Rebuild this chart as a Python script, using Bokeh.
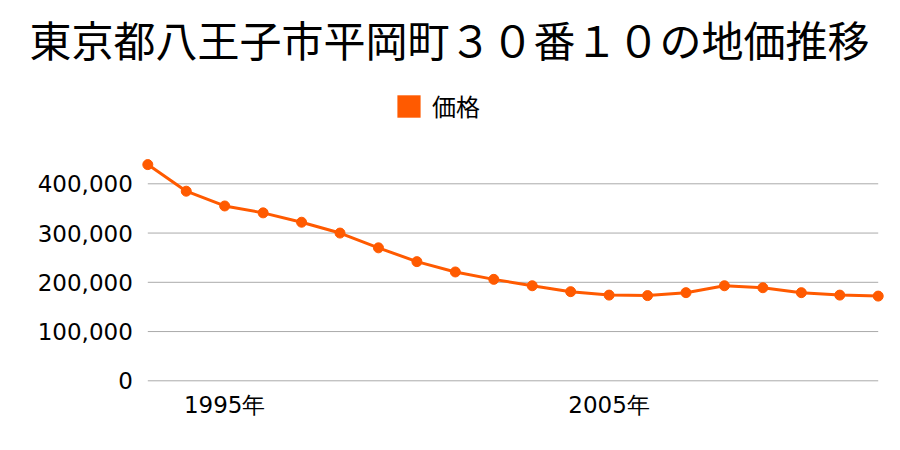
from bokeh.plotting import figure
from bokeh.models import (ColumnDataSource, Range1d, Legend, LegendItem, Label)
from bokeh.embed import file_html
from bokeh.resources import INLINE

title_text = "東京都八王子市平岡町３０番１０の地価推移"
series_name = "価格"
years = [1993, 1994, 1995, 1996, 1997, 1998, 1999, 2000, 2001, 2002,
         2003, 2004, 2005, 2006, 2007, 2008, 2009, 2010, 2011, 2012]
prices = [439000, 385000, 355000, 341000, 322000, 300000, 270000, 242000, 221000, 206000,
          193000, 181000, 174000, 173000, 179000, 193000, 189000, 179000, 174000, 172000]
x_ticks = [1995, 2005]
x_tick_labels = ["1995年", "2005年"]
y_ticks = [0, 100000, 200000, 300000, 400000]
y_tick_labels = ["0", "100,000", "200,000", "300,000", "400,000"]

COLOR = "#ff5a00"
FONT = "DejaVu Sans"
CJK = "Noto Sans CJK JP"

src = ColumnDataSource(dict(x=years, y=prices))
grid_src = ColumnDataSource(dict(x0=[years[0]] * len(y_ticks), x1=[years[-1]] * len(y_ticks),
                                 y=y_ticks))
ylab_src = ColumnDataSource(dict(x=[years[0]] * len(y_ticks), y=y_ticks, t=y_tick_labels))
xlab_src = ColumnDataSource(dict(x=x_ticks, y=[y_ticks[0]] * len(x_ticks), t=x_tick_labels))
# zero-area swatch source, only used so the legend can draw its square
swatch_src = ColumnDataSource(dict(l=[years[0]], r=[years[0]], t=[y_ticks[0]], b=[y_ticks[0]]))

# the plotting frame fills the whole 900x450 canvas; axes are drawn as text from the tick arrays
p = figure(width=900, height=450, output_backend="svg", toolbar_location=None,
           x_range=Range1d(1989.168, 2012.58), y_range=Range1d(-141500, 772200),
           min_border=0, x_axis_location=None, y_axis_location=None, title_location=None)
p.outline_line_color = None
p.background_fill_color = "white"
p.border_fill_color = "white"
p.xgrid.visible = False
p.ygrid.visible = False

p.segment(x0="x0", x1="x1", y0="y", y1="y", source=grid_src, line_color="#aaaaaa", line_width=1)
p.line("x", "y", source=src, line_color=COLOR, line_width=3)
p.scatter("x", "y", source=src, size=10, fill_color=COLOR, line_color=COLOR)

p.text(x="x", y="y", text="t", source=ylab_src, x_offset=-15, text_align="right",
       text_baseline="middle", text_font={"value": FONT}, text_font_size="23px",
       text_color="#000000")
p.text(x="x", y="y", text="t", source=xlab_src, y_offset=24, text_align="center",
       text_baseline="middle", text_font={"value": FONT}, text_font_size="23px",
       text_color="#000000")

p.add_layout(Label(x=449, y=412, x_units="screen", y_units="screen", text=title_text,
                   text_font=CJK, text_font_size="42px", text_color="#000000",
                   text_align="center", text_baseline="middle"))

swatch = p.quad(left="l", right="r", top="t", bottom="b", source=swatch_src,
                fill_color=COLOR, line_color=None)
legend = Legend(items=[LegendItem(label=series_name, renderers=[swatch])],
                location=(394, 327), orientation="horizontal",
                glyph_width=29, glyph_height=28, label_height=28, label_standoff=9,
                label_text_font=CJK, label_text_font_size="24px",
                label_text_color="#000000", padding=0, margin=0, spacing=0,
                border_line_color=None, background_fill_alpha=0)
p.add_layout(legend)

open("out.html", "w").write(file_html(p, INLINE))
